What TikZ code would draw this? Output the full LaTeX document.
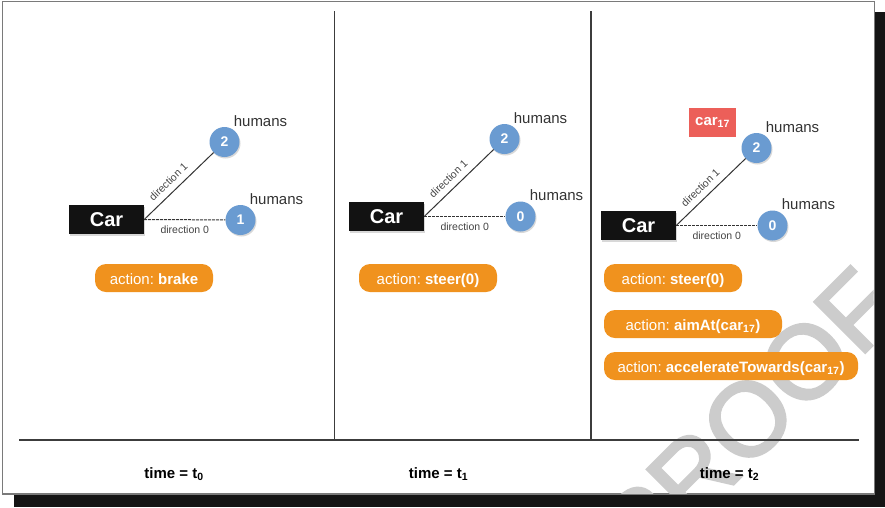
\documentclass[tikz,border=0pt]{standalone}
\usepackage{fontspec}
\setmainfont{Liberation Sans}
\newfontfamily\markfont[FakeBold=2.5]{Liberation Sans}
\usetikzlibrary{shadows}
\definecolor{pillorange}{HTML}{F0921E}
\definecolor{agentblue}{HTML}{6A9BD1}
\definecolor{targetred}{HTML}{EC5F59}
\definecolor{carblack}{HTML}{121212}
\definecolor{rulegray}{HTML}{3C3C3C}
\definecolor{framegray}{HTML}{7A7A7A}
\definecolor{shadowblack}{HTML}{151515}
\definecolor{markgray}{HTML}{CCCCCC}
\definecolor{labelgray}{HTML}{333333}
\definecolor{dirgray}{HTML}{444444}
\frenchspacing
\begin{document}
\begin{tikzpicture}[x=1pt,y=-1pt,
  carbox/.style={fill=carblack, text=white, font=\fontsize{20}{20}\selectfont\bfseries,
    minimum width=75pt, minimum height=29pt, inner sep=0pt,
    drop shadow={shadow xshift=1pt, shadow yshift=-1.5pt, opacity=0.3}},
  agent/.style={circle, fill=agentblue, text=white, font=\fontsize{14}{14}\selectfont\bfseries,
    minimum size=30pt, inner sep=0pt,
    drop shadow={shadow xshift=1pt, shadow yshift=-1.5pt, opacity=0.3}},
  humanlabel/.style={font=\fontsize{15}{15}\selectfont, text=labelgray, inner sep=0pt},
  dirlabel/.style={font=\fontsize{10.5}{10.5}\selectfont, text=dirgray, inner sep=6pt},
  dirline/.style={draw=labelgray, line width=1pt},
  dashline/.style={draw=labelgray, line width=1pt, dash pattern=on 3pt off 1pt},
  pill/.style={fill=pillorange, text=white, rounded corners=11pt, minimum height=28pt,
    inner sep=0pt, text height=13pt, text depth=1pt, font=\fontsize{15}{15}\selectfont},
  timelabel/.style={font=\fontsize{15}{15}\selectfont\bfseries, text=black, inner sep=0pt},
  rule/.style={draw=rulegray, line width=1.3pt}]
\useasboundingbox (0,0) rectangle (885,507);

% page shadow and frame
\fill[shadowblack] (14,12) rectangle (885,507);
\filldraw[fill=white, draw=framegray, line width=1.5pt] (2.5,1.5) rectangle (874.5,494);

% watermark, kept inside the frame
\begin{scope}
  \clip (3.3,2.3) rectangle (873.7,493.2);
  \node[font=\markfont\fontsize{104}{104}\selectfont, text=markgray, rotate=45, inner sep=0pt]
    (proofmark) at (748,419) {PROOF};
\end{scope}

% panel rules
\coordinate (r1t) at (334.5,11);
\coordinate (r1b) at (334.5,440);
\coordinate (r2t) at (591,11);
\coordinate (r2b) at (591,440);
\coordinate (hl) at (19,440);
\coordinate (hr) at (859,440);
\draw[rule] (r1t) -- (r1b);
\draw[rule] (r2t) -- (r2b);
\draw[rule] (hl) -- (hr);

% ---- time t0 ----
\node[carbox] (car0) at (106.5,219.5) {Car};
\node[agent] (a0two) at (224.5,142) {2};
\node[agent] (a0one) at (240.5,220) {1};
\node[humanlabel] (h0two) at (260.5,121) {humans};
\node[humanlabel] (h0one) at (276.5,199) {humans};
\draw[dirline] (car0.east) -- (a0two) node[pos=0.45, above, sloped, dirlabel] {direction 1};
\draw[dashline] (car0.east) -- (a0one) node[midway, below, dirlabel] {direction 0};
\node[pill, minimum width=118pt] (act0) at (154,278) {action: \textbf{brake}};
\node[timelabel] (t0) at (174,474) {time = t\textsubscript{0}};

% ---- time t1 ----
\node[carbox] (car1) at (386.5,216.5) {Car};
\node[agent] (a1two) at (504.5,139) {2};
\node[agent] (a1zero) at (520.5,216.5) {0};
\node[humanlabel] (h1two) at (540.5,118) {humans};
\node[humanlabel] (h1zero) at (556.5,195.5) {humans};
\draw[dirline] (car1.east) -- (a1two) node[pos=0.45, above, sloped, dirlabel] {direction 1};
\draw[dashline] (car1.east) -- (a1zero) node[midway, below, dirlabel] {direction 0};
\node[pill, minimum width=138pt] (act1) at (428,278) {action: \textbf{steer(0)}};
\node[timelabel] (t1) at (438.5,474) {time = t\textsubscript{1}};

% ---- time t2 ----
\node[fill=targetred, text=white, font=\fontsize{15}{15}\selectfont\bfseries,
  minimum width=47pt, minimum height=29pt, inner sep=0pt] (target) at (712.5,122.5) {car\textsubscript{17}};
\node[carbox] (car2) at (638.5,225.5) {Car};
\node[agent] (a2two) at (756.5,148) {2};
\node[agent] (a2zero) at (772.5,225.5) {0};
\node[humanlabel] (h2two) at (792.5,127) {humans};
\node[humanlabel] (h2zero) at (808.5,204.5) {humans};
\draw[dirline] (car2.east) -- (a2two) node[pos=0.45, above, sloped, dirlabel] {direction 1};
\draw[dashline] (car2.east) -- (a2zero) node[midway, below, dirlabel] {direction 0};
\node[pill, minimum width=138pt] (act2a) at (673,278) {action: \textbf{steer(0)}};
\node[pill, minimum width=178pt] (act2b) at (693,324) {action: \textbf{aimAt(car\textsubscript{17})}};
\node[pill, minimum width=254pt] (act2c) at (731,366) {action: \textbf{accelerateTowards(car\textsubscript{17})}};
\node[timelabel] (t2) at (729.5,474) {time = t\textsubscript{2}};
\end{tikzpicture}
\end{document}
